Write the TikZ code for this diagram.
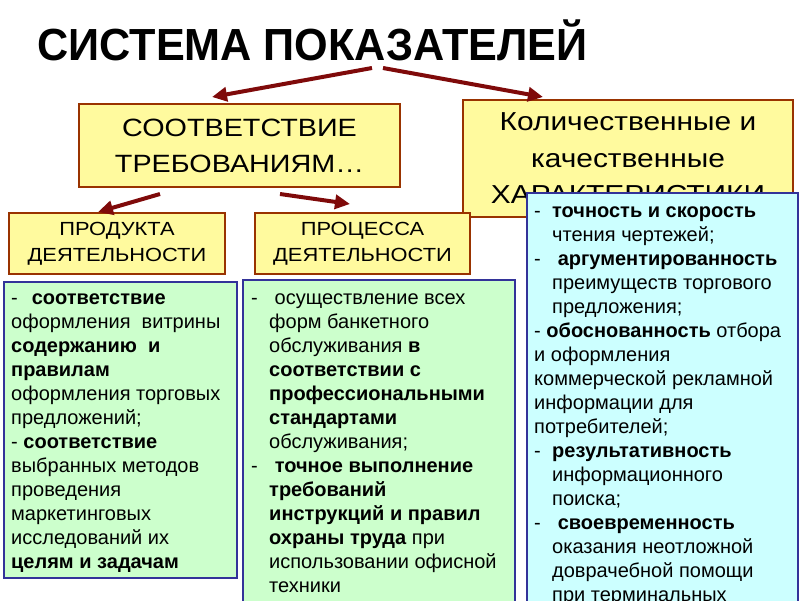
\documentclass[tikz,border=0pt]{standalone}
\usepackage{fontspec}
\setmainfont{Liberation Sans}
\newfontfamily\headfont[FakeStretch=1.15]{Liberation Sans}
\newfontfamily\titlefont[FakeStretch=0.96]{Liberation Sans}
\usetikzlibrary{arrows.meta, positioning}

\definecolor{hdfill}{HTML}{FFFA9E}
\definecolor{hdline}{HTML}{993300}
\definecolor{grfill}{HTML}{CCFFCC}
\definecolor{blfill}{HTML}{CCFFFF}
\definecolor{bxline}{HTML}{333399}
\definecolor{arrred}{HTML}{7F0A0A}

\newcommand{\dashitem}{\makebox[18pt][l]{-}}
\newcommand{\hangtab}{\hspace*{18pt}}

\begin{document}
\begin{tikzpicture}[
    x=1pt, y=-1pt,
    headbox/.style={rectangle, draw=hdline, line width=2pt, fill=hdfill, align=center, inner sep=0pt},
    listbox/.style={rectangle, draw=bxline, line width=2pt, inner sep=0pt},
    listtext/.style={anchor=north west, inner sep=0pt, align=left, font=\fontsize{20}{24}\selectfont},
    arrow/.style={-{Triangle[length=15pt, width=14pt]}, line width=4pt, arrred}
]

\useasboundingbox (0,0) rectangle (800,600);
\clip (0,0) rectangle (800,600);

\node[anchor=base west, inner sep=0pt, font=\titlefont\bfseries\fontsize{45}{54}\selectfont] (title) at (37,60) {СИСТЕМА ПОКАЗАТЕЛЕЙ};
\coordinate (fork) at (378,68);

\node[headbox, minimum width=321pt, minimum height=83pt, font=\headfont\fontsize{25}{36}\selectfont] (reqbox) at (239.5,145.5) {СООТВЕТСТВИЕ\\ТРЕБОВАНИЯМ…};
\node[headbox, minimum width=330pt, minimum height=117pt, font=\headfont\fontsize{26}{36.5}\selectfont] (charbox) at (628,158.5) {Количественные и\\качественные\\ХАРАКТЕРИСТИКИ};
\node[headbox, minimum width=216pt, minimum height=61pt, font=\headfont\fontsize{19}{26}\selectfont] (prodbox) at (117,243.5) {ПРОДУКТА\\ДЕЯТЕЛЬНОСТИ};
\node[headbox, minimum width=215pt, minimum height=61pt, font=\headfont\fontsize{19}{26}\selectfont] (procbox) at (362.5,243.5) {ПРОЦЕССА\\ДЕЯТЕЛЬНОСТИ};

\draw[arrow] ([xshift=-6pt]fork) -- ([xshift=-27.5pt, yshift=6pt]reqbox.north);
\draw[arrow] ([xshift=5pt]fork) -- ([xshift=-85pt, yshift=2pt]charbox.north);
\draw[arrow] ([xshift=-79.5pt, yshift=-6pt]reqbox.south) -- ([xshift=-19pt]prodbox.north);
\draw[arrow] ([xshift=40.5pt, yshift=-6pt]reqbox.south) -- ([xshift=-12.5pt, yshift=8pt]procbox.north);

\node[listbox, fill=grfill, minimum width=233pt, minimum height=296pt] (prodlist) at (120.5,430) {};
\node[listbox, fill=grfill, minimum width=272pt, minimum height=360pt] (proclist) at (379,460) {};
\node[listbox, fill=blfill, minimum width=271pt, minimum height=447pt] (charlist) at (662.5,416.5) {};

\node[listtext] (prodtext) at ([xshift=8pt, yshift=-6pt]prodlist.north west) {\strut -\hspace{14pt}\textbf{соответствие}\\
оформления\ \ витрины\\
\textbf{содержанию\ \ и}\\
\textbf{правилам}\\
оформления торговых\\
предложений;\\
- \textbf{соответствие}\\
выбранных методов\\
проведения\\
маркетинговых\\
исследований их\\
\textbf{целям и задачам}};

\node[listtext] (proctext) at ([xshift=9pt, yshift=-8pt]proclist.north west) {\strut\dashitem\ осуществление всех\\
\hangtab форм банкетного\\
\hangtab обслуживания \textbf{в}\\
\hangtab\textbf{соответствии с}\\
\hangtab\textbf{профессиональными}\\
\hangtab\textbf{стандартами}\\
\hangtab обслуживания;\\
\dashitem\ \textbf{точное выполнение}\\
\hangtab\textbf{требований}\\
\hangtab\textbf{инструкций и правил}\\
\hangtab\textbf{охраны труда} при\\
\hangtab использовании офисной\\
\hangtab техники};

\node[listtext] (chartext) at ([xshift=8pt, yshift=-8.5pt]charlist.north west) {\strut\dashitem\textbf{точность и скорость}\\
\hangtab чтения чертежей;\\
\dashitem\ \textbf{аргументированность}\\
\hangtab преимуществ торгового\\
\hangtab предложения;\\
- \textbf{обоснованность} отбора\\
и оформления\\
коммерческой рекламной\\
информации для\\
потребителей;\\
\dashitem\textbf{результативность}\\
\hangtab информационного\\
\hangtab поиска;\\
\dashitem\ \textbf{своевременность}\\
\hangtab оказания неотложной\\
\hangtab доврачебной помощи\\
\hangtab при терминальных};

\end{tikzpicture}
\end{document}
